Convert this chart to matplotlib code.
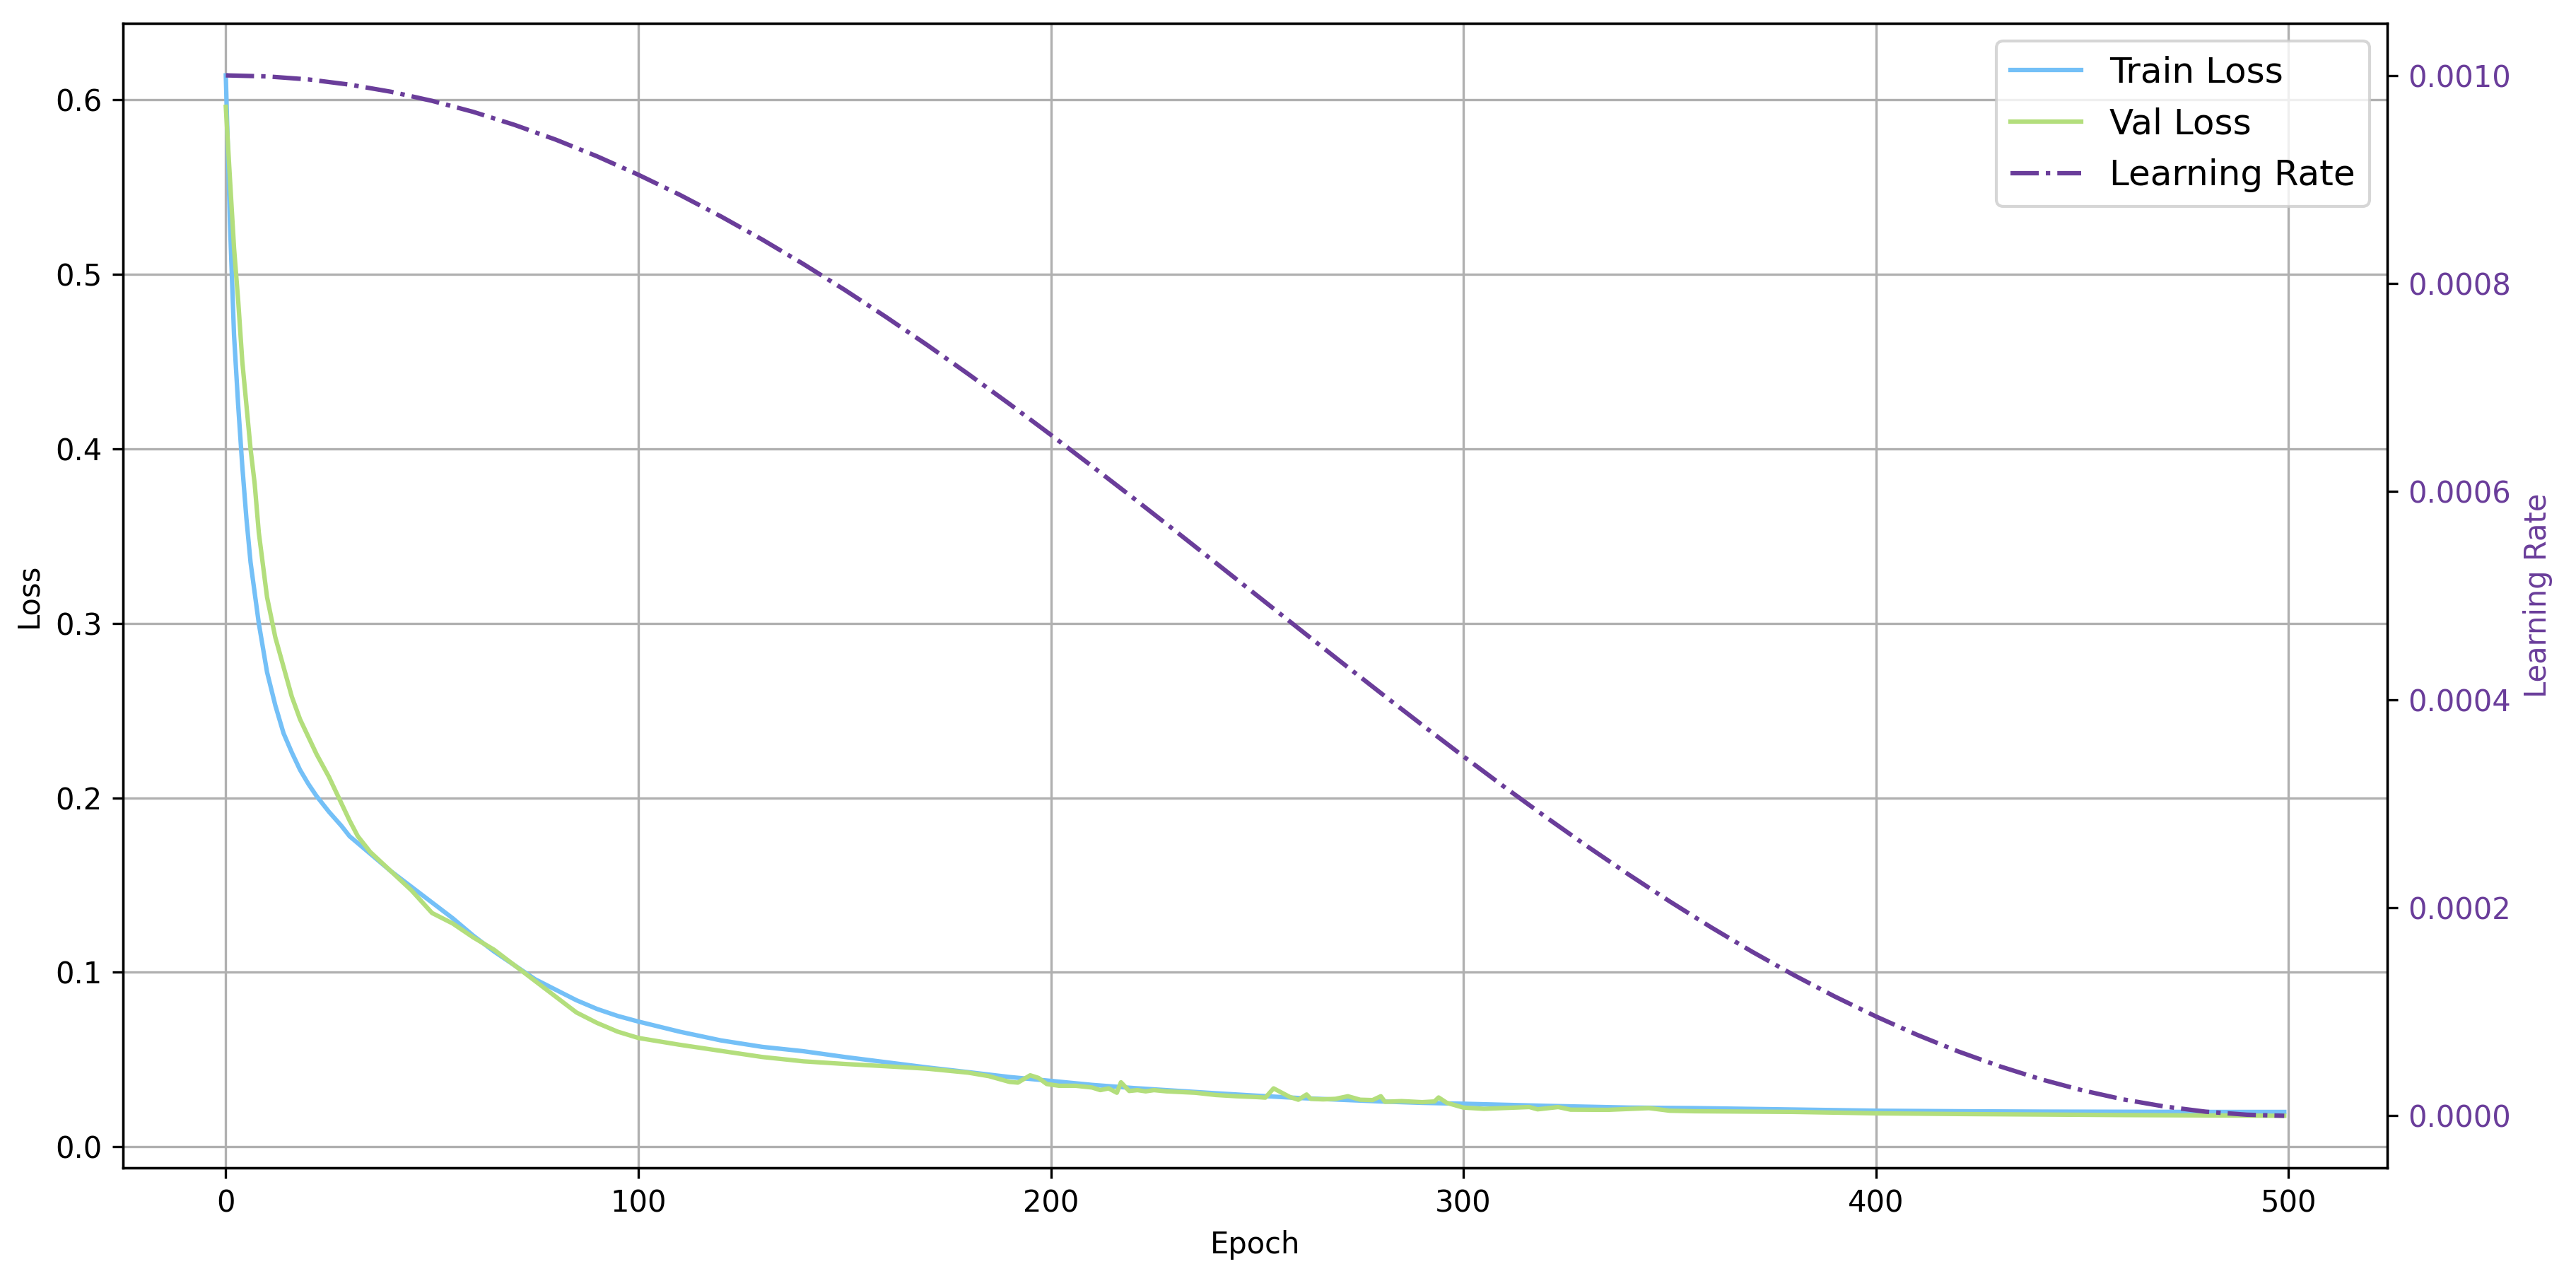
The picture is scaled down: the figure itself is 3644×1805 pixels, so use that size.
import numpy as np
import matplotlib
matplotlib.use("Agg")
import matplotlib.pyplot as plt

# train loss
train_epochs = [0, 1, 2, 3, 4, 5, 6, 8, 10, 12, 14, 16, 18, 20, 22, 25, 28, 30, 35, 40,
                45, 50, 55, 60, 65, 70, 75, 80, 85, 90, 95, 100, 110, 120, 130, 140, 150,
                160, 170, 180, 190, 200, 210, 220, 230, 240, 250, 260, 270, 280, 290, 300,
                320, 340, 356, 380, 400, 420, 440, 460, 480, 499]
train_loss = [0.614, 0.530, 0.465, 0.425, 0.390, 0.360, 0.335, 0.300, 0.272, 0.253, 0.237,
              0.226, 0.216, 0.208, 0.201, 0.192, 0.184, 0.178, 0.168, 0.158, 0.149, 0.140,
              0.131, 0.121, 0.112, 0.104, 0.096, 0.090, 0.084, 0.079, 0.075, 0.0718, 0.066,
              0.061, 0.0573, 0.0548, 0.0515, 0.0485, 0.0455, 0.0428, 0.0400, 0.0378, 0.0355,
              0.0337, 0.0322, 0.0307, 0.0293, 0.0280, 0.0270, 0.0260, 0.0252, 0.0247, 0.0235,
              0.0225, 0.0222, 0.0214, 0.0207, 0.0204, 0.0202, 0.0201, 0.0200, 0.0200]

# val loss, with the small spikes
val_epochs = [0, 1, 2, 3, 4, 5, 6, 7, 8, 10, 12, 14, 16, 18, 20, 22, 25, 28, 30, 32, 35, 40,
              45, 50, 55, 60, 65, 70, 75, 80, 85, 90, 95, 100, 110, 120, 130, 140, 150, 160,
              170, 180, 185, 190, 192, 195, 197, 199, 202, 206, 210, 212, 214, 216, 217, 219,
              221, 223, 225, 228, 235, 240, 245, 250, 252, 254, 256, 258, 260, 262, 263, 266,
              269, 272, 275, 278, 280, 281, 285, 290, 293, 294, 296, 300, 305, 316, 318, 323,
              326, 335, 345, 350, 356, 380, 400, 420, 440, 460, 480, 499]
val_loss = [0.596, 0.555, 0.515, 0.485, 0.450, 0.425, 0.400, 0.380, 0.352, 0.315, 0.292, 0.275,
            0.258, 0.245, 0.235, 0.225, 0.212, 0.197, 0.187, 0.178, 0.169, 0.158, 0.147, 0.134,
            0.128, 0.120, 0.113, 0.104, 0.095, 0.086, 0.077, 0.071, 0.066, 0.0624, 0.0585, 0.055,
            0.0515, 0.0490, 0.0475, 0.0462, 0.0448, 0.0425, 0.0405, 0.0372, 0.0368, 0.0410,
            0.0395, 0.0360, 0.0350, 0.0350, 0.0340, 0.0325, 0.0335, 0.0310, 0.0370, 0.0320,
            0.0325, 0.0318, 0.0325, 0.0318, 0.0310, 0.0297, 0.0290, 0.0285, 0.0282, 0.0335,
            0.0310, 0.0285, 0.0270, 0.0300, 0.0275, 0.0272, 0.0275, 0.0290, 0.0270, 0.0268,
            0.0290, 0.0258, 0.0262, 0.0256, 0.0260, 0.0283, 0.0252, 0.0225, 0.0218, 0.0228,
            0.0215, 0.0228, 0.0213, 0.0212, 0.0222, 0.0207, 0.0204, 0.0200, 0.0192, 0.0188,
            0.0185, 0.0182, 0.0180, 0.0178]

# learning rate schedule
lr_epochs = [0, 10, 20, 30, 40, 50, 60, 70, 80, 90, 100, 110, 120, 130, 140, 150, 160, 170,
             180, 190, 200, 210, 220, 230, 240, 250, 260, 270, 280, 290, 300, 310, 320, 330,
             340, 350, 360, 370, 380, 390, 400, 410, 420, 430, 440, 450, 460, 470, 480, 490, 499]
lr_values = [1.0000e-3, 0.9990e-3, 0.9961e-3, 0.9911e-3, 0.9843e-3, 0.9755e-3, 0.9649e-3,
             0.9524e-3, 0.9382e-3, 0.9222e-3, 0.9045e-3, 0.8853e-3, 0.8645e-3, 0.8423e-3,
             0.8187e-3, 0.7939e-3, 0.7679e-3, 0.7409e-3, 0.7129e-3, 0.6841e-3, 0.6545e-3,
             0.6243e-3, 0.5937e-3, 0.5627e-3, 0.5314e-3, 0.5000e-3, 0.4686e-3, 0.4373e-3,
             0.4063e-3, 0.3757e-3, 0.3455e-3, 0.3159e-3, 0.2871e-3, 0.2591e-3, 0.2321e-3,
             0.2061e-3, 0.1813e-3, 0.1577e-3, 0.1355e-3, 0.1147e-3, 0.0955e-3, 0.0778e-3,
             0.0618e-3, 0.0476e-3, 0.0351e-3, 0.0245e-3, 0.0157e-3, 0.0089e-3, 0.0039e-3,
             0.0010e-3, 0.0000]

c_train = '#74C0F7'
c_val = '#B3DE7C'
c_lr = '#6A3D9A'

fig, ax1 = plt.subplots(figsize=(3644 / 300, 1805 / 300), dpi=300)
fig.subplots_adjust(left=0.0477, right=0.9267, bottom=0.0848, top=0.9817)

l1, = ax1.plot(train_epochs, train_loss, color=c_train, lw=1.5, label='Train Loss')
l2, = ax1.plot(val_epochs, val_loss, color=c_val, lw=1.5, label='Val Loss')
ax1.set_xlabel('Epoch')
ax1.set_ylabel('Loss')
ax1.grid(True)

ax2 = ax1.twinx()
l3, = ax2.plot(lr_epochs, lr_values, color=c_lr, lw=1.5, linestyle='-.', label='Learning Rate')
ax2.set_ylabel('Learning Rate', color=c_lr)
ax2.tick_params(axis='y', labelcolor=c_lr)
ax2.yaxis.set_major_formatter(matplotlib.ticker.FormatStrFormatter('%.4f'))

ax2.legend([l1, l2, l3], ['Train Loss', 'Val Loss', 'Learning Rate'], loc='upper right', fontsize=12)

plt.savefig('out.png', dpi=300)
